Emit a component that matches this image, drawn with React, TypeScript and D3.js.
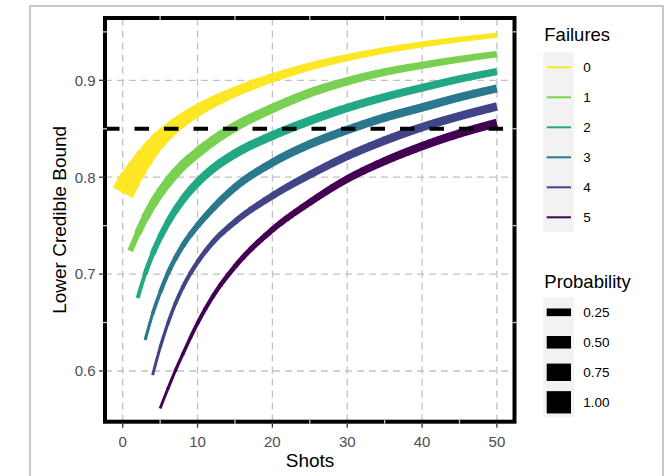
import React, { useEffect, useRef } from 'react';
import * as d3 from 'd3';

const W = 669;
const H = 476;

// ---------- data ----------
const failureLevels = ['0', '1', '2', '3', '4', '5'];
const failureColors = ['#FDE725', '#7AD151', '#22A884', '#2A788E', '#414487', '#440154'];

const shots0 = [0, 1, 2, 4, 6, 8, 10, 15, 20, 25, 30, 35, 40, 45, 50];
const bound0 = [0.784, 0.798, 0.81, 0.831, 0.847, 0.859, 0.869, 0.888, 0.9025, 0.9142, 0.9234, 0.9309, 0.937, 0.9421, 0.9465];
const prob0 = [1.0, 0.9, 0.82, 0.71, 0.6, 0.53, 0.47, 0.38, 0.32, 0.265, 0.22, 0.19, 0.165, 0.14, 0.12];

const shots1 = [1, 2, 3, 4, 6, 8, 10, 12, 15, 20, 25, 30, 35, 40, 45, 50];
const bound1 = [0.724, 0.7417, 0.758, 0.772, 0.7945, 0.812, 0.8253, 0.8372, 0.852, 0.871, 0.887, 0.899, 0.9085, 0.9155, 0.9217, 0.927];
const prob1 = [0.16, 0.24, 0.29, 0.32, 0.36, 0.37, 0.37, 0.365, 0.36, 0.33, 0.31, 0.28, 0.25, 0.225, 0.205, 0.18];

const shots2 = [2, 3, 4, 6, 8, 10, 12, 15, 20, 25, 30, 35, 40, 45, 50];
const bound2 = [0.6753, 0.7003, 0.7207, 0.7526, 0.7765, 0.7945, 0.8085, 0.8242, 0.8429, 0.8582, 0.8715, 0.8827, 0.8923, 0.9013, 0.909];
const prob2 = [0.06, 0.11, 0.16, 0.215, 0.256, 0.28, 0.295, 0.31, 0.31, 0.3, 0.28, 0.27, 0.256, 0.24, 0.225];

const shots3 = [3, 4, 5, 6, 8, 10, 12, 15, 20, 25, 30, 35, 40, 45, 50];
const bound3 = [0.632, 0.659, 0.681, 0.7, 0.729, 0.75, 0.7675, 0.7895, 0.815, 0.834, 0.8487, 0.8615, 0.872, 0.8825, 0.8916];
const prob3 = [0.02, 0.05, 0.08, 0.1, 0.14, 0.18, 0.21, 0.24, 0.27, 0.29, 0.29, 0.29, 0.29, 0.28, 0.27];

const shots4 = [4, 5, 6, 7, 8, 10, 12, 15, 20, 25, 30, 35, 40, 45, 50];
const bound4 = [0.5958, 0.6241, 0.6483, 0.6688, 0.6859, 0.7123, 0.7324, 0.7539, 0.7807, 0.8025, 0.8217, 0.8378, 0.8516, 0.863, 0.873];
const prob4 = [0.01, 0.025, 0.04, 0.055, 0.07, 0.1, 0.13, 0.17, 0.215, 0.25, 0.27, 0.29, 0.29, 0.29, 0.29];

const shots5 = [5, 6, 7, 8, 10, 12, 15, 20, 25, 30, 35, 40, 45, 50];
const bound5 = [0.5614, 0.581, 0.5997, 0.6169, 0.6493, 0.6764, 0.7078, 0.7458, 0.774, 0.7981, 0.8166, 0.832, 0.8451, 0.856];
const prob5 = [0.005, 0.015, 0.025, 0.035, 0.06, 0.08, 0.12, 0.17, 0.21, 0.24, 0.27, 0.28, 0.29, 0.3];

const xTicks = [0, 10, 20, 30, 40, 50];
const xMinor = [5, 15, 25, 35, 45];
const yTicks = [0.6, 0.7, 0.8, 0.9];
const yTickLabels = ['0.6', '0.7', '0.8', '0.9'];
const yMinor = [0.65, 0.75, 0.85, 0.95];
const probBreaks = [0.25, 0.5, 0.75, 1.0];
const probLabels = ['0.25', '0.50', '0.75', '1.00'];
const threshold = 0.85;

const FONT = "'Liberation Sans', Arial, Helvetica, sans-serif";

export default function App() {
  const ref = useRef<SVGSVGElement>(null);

  useEffect(() => {
    const svg = d3.select(ref.current as SVGSVGElement);
    svg.selectAll('*').remove();

    const panel = { l: 105, r: 514.5, t: 18, b: 421.7 };
    const x = d3.scaleLinear().domain([0, 50]).range([122.7, 496.9]);
    const y = d3.scaleLinear().domain([0.6, 0.9]).range([371, 80.3]);
    const wScale = d3.scaleLinear().domain([0, 1]).range([2.8, 22.3]);

    // outer frame
    svg.append('rect')
      .attr('x', 30).attr('y', 6).attr('width', 633).attr('height', 520)
      .attr('fill', 'none').attr('stroke', '#b9b9b9').attr('stroke-width', 1.6);

    // grid
    const grid = svg.append('g');
    xTicks.forEach((t) => {
      grid.append('line')
        .attr('x1', x(t)).attr('x2', x(t)).attr('y1', panel.b).attr('y2', panel.t)
        .attr('stroke', '#c2c2c2').attr('stroke-width', 1.3).attr('stroke-dasharray', '7,5');
    });
    yTicks.forEach((t) => {
      grid.append('line')
        .attr('x1', panel.l).attr('x2', panel.r).attr('y1', y(t)).attr('y2', y(t))
        .attr('stroke', '#c2c2c2').attr('stroke-width', 1.3).attr('stroke-dasharray', '7,5');
    });

    const series = [
      { shots: shots0, bound: bound0, prob: prob0 },
      { shots: shots1, bound: bound1, prob: prob1 },
      { shots: shots2, bound: bound2, prob: prob2 },
      { shots: shots3, bound: bound3, prob: prob3 },
      { shots: shots4, bound: bound4, prob: prob4 },
      { shots: shots5, bound: bound5, prob: prob5 },
    ];

    const pointAtX = (samples: number[][], xv: number) => {
      if (xv <= samples[0][0]) return samples[0];
      const lastP = samples[samples.length - 1];
      if (xv >= lastP[0]) return lastP;
      for (let i = 1; i < samples.length; i++) {
        const a = samples[i - 1];
        const b = samples[i];
        if (a[0] <= xv && b[0] >= xv) {
          const t = b[0] === a[0] ? 0 : (xv - a[0]) / (b[0] - a[0]);
          return [xv, a[1] + t * (b[1] - a[1])];
        }
      }
      return lastP;
    };

    const lines = svg.append('g');
    series.forEach((s, si) => {
      const pts = s.shots.map((n, i) => [x(n), y(s.bound[i])] as [number, number]);
      const d = d3.line().curve(d3.curveMonotoneX)(pts) as string;
      const tmp = svg.append('path').attr('d', d).attr('fill', 'none').attr('stroke', 'none');
      const node = tmp.node() as SVGPathElement;
      const L = node.getTotalLength();
      const samples: number[][] = [];
      for (let l = 0; l < L; l += 0.4) {
        const p = node.getPointAtLength(l);
        samples.push([p.x, p.y]);
      }
      const pe = node.getPointAtLength(L);
      samples.push([pe.x, pe.y]);
      tmp.remove();
      for (let i = 1; i < samples.length; i++) {
        if (samples[i][0] < samples[i - 1][0]) samples[i][0] = samples[i - 1][0];
      }

      const probAt = d3.scaleLinear().domain(s.shots).range(s.prob);
      const first = s.shots[0];
      const last = s.shots[s.shots.length - 1];
      const g = lines.append('g');
      for (let n = first; n < last; n++) {
        const xa = x(n);
        const xb = n + 1 < last ? x(n + 1) + 0.7 : x(n + 1);
        const seg: number[][] = [pointAtX(samples, xa)];
        samples.forEach((p) => {
          if (p[0] > xa && p[0] < xb) seg.push(p);
        });
        seg.push(pointAtX(samples, xb));
        g.append('path')
          .attr('d', d3.line()(seg as [number, number][]) as string)
          .attr('fill', 'none')
          .attr('stroke', failureColors[si])
          .attr('stroke-width', wScale(probAt(n)))
          .attr('stroke-linecap', 'butt')
          .attr('stroke-linejoin', 'round');
      }
    });

    // threshold line
    svg.append('line')
      .attr('x1', panel.l).attr('x2', panel.r).attr('y1', y(threshold)).attr('y2', y(threshold))
      .attr('stroke', '#000').attr('stroke-width', 4).attr('stroke-dasharray', '14.5,15');

    // panel border
    svg.append('rect')
      .attr('x', panel.l).attr('y', panel.t)
      .attr('width', panel.r - panel.l).attr('height', panel.b - panel.t)
      .attr('fill', 'none').attr('stroke', '#000').attr('stroke-width', 4);

    // light marks across the border at minor positions
    const marks = svg.append('g').attr('stroke', '#c8c8c8').attr('stroke-width', 1.3);
    xMinor.forEach((t) => {
      marks.append('line').attr('x1', x(t)).attr('x2', x(t)).attr('y1', panel.t - 2).attr('y2', panel.t + 2);
      marks.append('line').attr('x1', x(t)).attr('x2', x(t)).attr('y1', panel.b - 2).attr('y2', panel.b + 2);
    });
    yMinor.forEach((t) => {
      marks.append('line').attr('x1', panel.l - 2).attr('x2', panel.l + 2).attr('y1', y(t)).attr('y2', y(t));
      marks.append('line').attr('x1', panel.r - 2).attr('x2', panel.r + 2).attr('y1', y(t)).attr('y2', y(t));
    });

    // axis ticks
    const ticks = svg.append('g').attr('stroke', '#333').attr('stroke-width', 1.3);
    xTicks.forEach((t) => {
      ticks.append('line').attr('x1', x(t)).attr('x2', x(t)).attr('y1', panel.b).attr('y2', panel.b + 6);
    });
    yTicks.forEach((t) => {
      ticks.append('line').attr('x1', panel.l - 6).attr('x2', panel.l).attr('y1', y(t)).attr('y2', y(t));
    });

    // tick labels
    const tl = svg.append('g').attr('font-family', FONT).attr('font-size', 15).attr('fill', '#4d4d4d');
    xTicks.forEach((t) => {
      tl.append('text').attr('x', x(t)).attr('y', 447).attr('text-anchor', 'middle').text(String(t));
    });
    yTicks.forEach((t, i) => {
      tl.append('text').attr('x', 95.5).attr('y', y(t) + 5.3).attr('text-anchor', 'end').text(yTickLabels[i]);
    });

    // axis titles
    svg.append('text')
      .attr('x', 310).attr('y', 467).attr('text-anchor', 'middle')
      .attr('font-family', FONT).attr('font-size', 19).attr('fill', '#000')
      .text('Shots');
    svg.append('text')
      .attr('transform', `translate(65.6,${(panel.t + panel.b) / 2}) rotate(-90)`)
      .attr('text-anchor', 'middle')
      .attr('font-family', FONT).attr('font-size', 19).attr('fill', '#000')
      .text('Lower Credible Bound');

    // legend: Failures
    const lg1 = svg.append('g').attr('font-family', FONT);
    lg1.append('text').attr('x', 544.3).attr('y', 40.7).attr('font-size', 18.5).text('Failures');
    lg1.append('rect').attr('x', 543.3).attr('y', 52.3).attr('width', 30.5).attr('height', 180).attr('fill', '#f2f2f2');
    failureLevels.forEach((lab, i) => {
      const cy = 52.3 + 30 * i + 15;
      lg1.append('line').attr('x1', 546.7).attr('x2', 571).attr('y1', cy).attr('y2', cy)
        .attr('stroke', failureColors[i]).attr('stroke-width', 2);
      lg1.append('text').attr('x', 583.3).attr('y', cy + 4.7).attr('font-size', 13.5).text(lab);
    });

    // legend: Probability
    const lg2 = svg.append('g').attr('font-family', FONT);
    lg2.append('text').attr('x', 544.3).attr('y', 288).attr('font-size', 18.5).text('Probability');
    lg2.append('rect').attr('x', 543.3).attr('y', 297.3).attr('width', 30.5).attr('height', 120).attr('fill', '#f2f2f2');
    probBreaks.forEach((v, i) => {
      const cy = 297.3 + 30 * i + 15;
      lg2.append('line').attr('x1', 546.7).attr('x2', 571).attr('y1', cy).attr('y2', cy)
        .attr('stroke', '#000').attr('stroke-width', wScale(v)).attr('stroke-linecap', 'butt');
      lg2.append('text').attr('x', 583.3).attr('y', cy + 4.7).attr('font-size', 13.5).text(probLabels[i]);
    });
  }, []);

  return (
    <svg
      ref={ref}
      width={W}
      height={H}
      style={{ position: 'absolute', left: 0, top: 0, background: '#fff' }}
    />
  );
}
